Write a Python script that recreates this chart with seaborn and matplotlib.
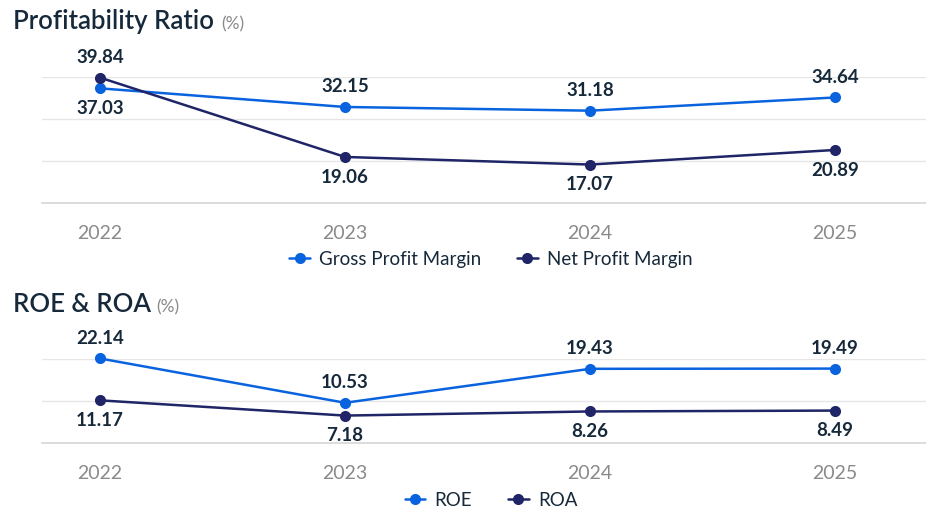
import matplotlib
matplotlib.use("Agg")
import matplotlib.pyplot as plt
import pandas as pd
import seaborn as sns

# ---- data ----
years = ["2022", "2023", "2024", "2025"]
gross_profit_margin = [37.03, 32.15, 31.18, 34.64]
net_profit_margin = [39.84, 19.06, 17.07, 20.89]
roe = [22.14, 10.53, 19.43, 19.49]
roa = [11.17, 7.18, 8.26, 8.49]

BLUE = "#0a63de"
NAVY = "#1f2566"
DARK = "#16293a"
GRAY = "#8a8a8a"
FONT = "Lato"

sns.set_style("white")
plt.rcParams["font.family"] = [FONT, "DejaVu Sans"]

W, H = 926, 508
fig = plt.figure(figsize=(W / 100, H / 100), dpi=100)


def fx(px):
    return px / W


def fy(py):
    return 1 - py / H


def make_axes(top_px, bottom_px):
    return fig.add_axes([fx(42), fy(bottom_px), fx(926) - fx(42), (bottom_px - top_px) / H])


def draw_panel(ax, s1_name, s1, s2_name, s2, ylim, yticks, legend_y):
    df = pd.DataFrame({
        "year": years * 2,
        "value": s1 + s2,
        "series": [s1_name] * len(years) + [s2_name] * len(years),
    })
    sns.lineplot(data=df, x="year", y="value", hue="series",
                 palette={s1_name: BLUE, s2_name: NAVY},
                 marker="o", markersize=8, markeredgewidth=0,
                 linewidth=1.8, ax=ax, sort=False, clip_on=False)
    ax.set_xlim(-0.2367, 3.371)
    ax.set_ylim(*ylim)
    ax.set_yticks(yticks)
    ax.set_yticklabels([])
    ax.tick_params(axis="y", length=0)
    ax.grid(axis="y", color="#e6e6e6", linewidth=1)
    ax.set_axisbelow(True)
    for s in ["left", "right", "top"]:
        ax.spines[s].set_visible(False)
    ax.spines["bottom"].set_color("#d6d6d6")
    ax.spines["bottom"].set_linewidth(1.2)
    ax.tick_params(axis="x", length=5.5, width=1, color="#d6d6d6", pad=10,
                   labelsize=14, labelcolor=GRAY)
    ax.set_xlabel("")
    ax.set_ylabel("")

    # data labels
    for i in range(len(years)):
        a, b = s1[i], s2[i]
        for v, other in ((a, b), (b, a)):
            off = 14.5 if v >= other else -14.5
            ax.annotate(f"{v:.2f}", (i, v), xytext=(0, off), textcoords="offset points",
                        ha="center", va="center", fontsize=13.5, fontweight="bold",
                        color=DARK, annotation_clip=False)

    sns.move_legend(ax, "center", bbox_to_anchor=(fx(491), fy(legend_y)),
                    bbox_transform=fig.transFigure, ncol=2, frameon=False,
                    title=None, fontsize=13.5, handlelength=1.1, handletextpad=0.5,
                    columnspacing=1.9)
    for t in ax.get_legend().get_texts():
        t.set_color(DARK)


ax1 = make_axes(77, 203)
draw_panel(ax1, "Gross Profit Margin", gross_profit_margin,
           "Net Profit Margin", net_profit_margin,
           (7, 40), [7, 18, 29, 40], 259)

ax2 = make_axes(359, 443)
draw_panel(ax2, "ROE", roe, "ROA", roa, (0, 22), [0, 11, 22], 500)

# titles
fig.text(fx(13), fy(22), "Profitability Ratio", fontsize=18.5, color=DARK,
         fontweight="semibold", va="center", ha="left")
fig.text(fx(221), fy(24), "(%)", fontsize=12.5, color=GRAY, va="center", ha="left")
fig.text(fx(13), fy(305), "ROE & ROA", fontsize=18.5, color=DARK,
         fontweight="semibold", va="center", ha="left")
fig.text(fx(156), fy(307), "(%)", fontsize=12.5, color=GRAY, va="center", ha="left")

fig.savefig("out.png", dpi=100)
